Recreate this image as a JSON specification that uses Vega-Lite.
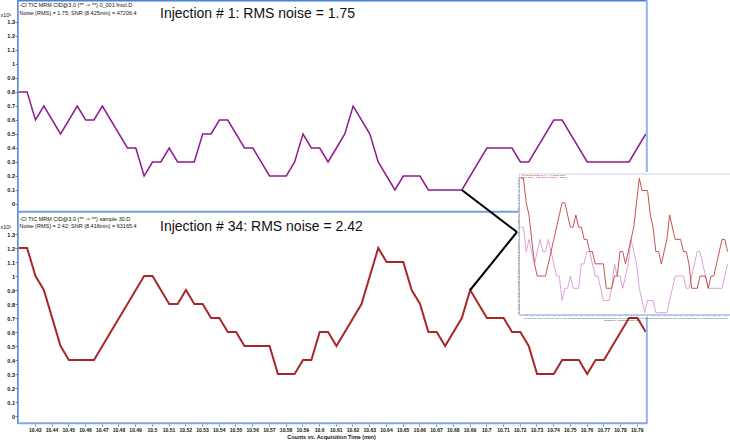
{
  "$schema": "https://vega.github.io/schema/vega-lite/v6.json",
  "autosize": "none",
  "width": 712,
  "height": 424,
  "padding": {"left": 18, "top": 0, "right": 0, "bottom": 17},
  "background": "white",
  "config": {
    "font": "Liberation Sans",
    "view": {"stroke": null},
    "axis": {"grid": false, "labelFont": "Liberation Sans", "titleFont": "Liberation Sans", "labelOverlap": false},
    "text": {"font": "Liberation Sans"}
  },
  "datasets": {
    "top": [
      {"t": 10.4204, "v": 0.8}, {"t": 10.4254, "v": 0.8}, {"t": 10.4304, "v": 0.6}, {"t": 10.4354, "v": 0.7},
      {"t": 10.4454, "v": 0.5}, {"t": 10.4554, "v": 0.7}, {"t": 10.4604, "v": 0.6}, {"t": 10.4654, "v": 0.6},
      {"t": 10.4704, "v": 0.7}, {"t": 10.4854, "v": 0.4}, {"t": 10.4904, "v": 0.4}, {"t": 10.4954, "v": 0.2},
      {"t": 10.5004, "v": 0.3}, {"t": 10.5054, "v": 0.3}, {"t": 10.5104, "v": 0.4}, {"t": 10.5154, "v": 0.3},
      {"t": 10.5254, "v": 0.3}, {"t": 10.5304, "v": 0.5}, {"t": 10.5354, "v": 0.5}, {"t": 10.5404, "v": 0.6},
      {"t": 10.5454, "v": 0.6}, {"t": 10.5554, "v": 0.4}, {"t": 10.5604, "v": 0.4}, {"t": 10.5704, "v": 0.2},
      {"t": 10.5804, "v": 0.2}, {"t": 10.5854, "v": 0.3}, {"t": 10.5904, "v": 0.5}, {"t": 10.5954, "v": 0.4},
      {"t": 10.6004, "v": 0.4}, {"t": 10.6054, "v": 0.3}, {"t": 10.6104, "v": 0.4}, {"t": 10.6154, "v": 0.5},
      {"t": 10.6204, "v": 0.7}, {"t": 10.6304, "v": 0.5}, {"t": 10.6354, "v": 0.3}, {"t": 10.6454, "v": 0.1},
      {"t": 10.6504, "v": 0.2}, {"t": 10.6604, "v": 0.2}, {"t": 10.6654, "v": 0.1}, {"t": 10.6854, "v": 0.1},
      {"t": 10.7004, "v": 0.4}, {"t": 10.7154, "v": 0.4}, {"t": 10.7204, "v": 0.3}, {"t": 10.7254, "v": 0.3},
      {"t": 10.7404, "v": 0.6}, {"t": 10.7454, "v": 0.6}, {"t": 10.7604, "v": 0.3}, {"t": 10.7854, "v": 0.3},
      {"t": 10.7954, "v": 0.5}
    ],
    "bottom": [
      {"t": 10.4204, "v": 1.2}, {"t": 10.4254, "v": 1.2}, {"t": 10.4304, "v": 1.0}, {"t": 10.4354, "v": 0.9},
      {"t": 10.4454, "v": 0.5}, {"t": 10.4504, "v": 0.4}, {"t": 10.4654, "v": 0.4}, {"t": 10.4954, "v": 1.0},
      {"t": 10.5004, "v": 1.0}, {"t": 10.5104, "v": 0.8}, {"t": 10.5154, "v": 0.8}, {"t": 10.5204, "v": 0.9},
      {"t": 10.5254, "v": 0.8}, {"t": 10.5304, "v": 0.8}, {"t": 10.5354, "v": 0.7}, {"t": 10.5404, "v": 0.7},
      {"t": 10.5454, "v": 0.6}, {"t": 10.5504, "v": 0.6}, {"t": 10.5554, "v": 0.5}, {"t": 10.5704, "v": 0.5},
      {"t": 10.5754, "v": 0.3}, {"t": 10.5854, "v": 0.3}, {"t": 10.5904, "v": 0.4}, {"t": 10.5954, "v": 0.4},
      {"t": 10.6004, "v": 0.6}, {"t": 10.6054, "v": 0.6}, {"t": 10.6104, "v": 0.5}, {"t": 10.6254, "v": 0.8},
      {"t": 10.6354, "v": 1.2}, {"t": 10.6404, "v": 1.1}, {"t": 10.6504, "v": 1.1}, {"t": 10.6554, "v": 0.9},
      {"t": 10.6604, "v": 0.8}, {"t": 10.6654, "v": 0.6}, {"t": 10.6704, "v": 0.6}, {"t": 10.6754, "v": 0.5},
      {"t": 10.6854, "v": 0.7}, {"t": 10.6904, "v": 0.9}, {"t": 10.7004, "v": 0.7}, {"t": 10.7104, "v": 0.7},
      {"t": 10.7154, "v": 0.6}, {"t": 10.7204, "v": 0.6}, {"t": 10.7254, "v": 0.5}, {"t": 10.7304, "v": 0.3},
      {"t": 10.7404, "v": 0.3}, {"t": 10.7454, "v": 0.4}, {"t": 10.7554, "v": 0.4}, {"t": 10.7604, "v": 0.3},
      {"t": 10.7654, "v": 0.4}, {"t": 10.7704, "v": 0.4}, {"t": 10.7854, "v": 0.7}, {"t": 10.7904, "v": 0.7},
      {"t": 10.7954, "v": 0.6}
    ]
  },
  "layer": [
    {
      "layer": [
        {
          "data": {"name": "top"},
          "mark": {"type": "line", "color": "#8e1b8f", "strokeWidth": 1.5},
          "encoding": {
            "x": {"field": "t", "type": "quantitative", "scale": {"domain": [10.41995, 10.84579], "zero": false, "nice": false}, "axis": null},
            "y": {"field": "v", "type": "quantitative", "scale": {"domain": [-1.5714, 1.4571], "zero": false, "nice": false},
              "axis": {"orient": "left", "tickCount": 100, "values": [0, 0.1, 0.2, 0.3, 0.4, 0.5, 0.6, 0.7, 0.8, 0.9, 1, 1.1, 1.2, 1.3], "format": "~g", "domain": false, "tickSize": 3, "tickColor": "#666", "tickWidth": 0.8, "labelFontSize": 5.5, "labelFontWeight": "bold", "labelColor": "#111", "labelPadding": 0.5, "labelOverlap": false, "title": "x10¹", "titleAngle": 0, "titleX": -18, "titleY": 14, "titleAlign": "left", "titleBaseline": "middle", "titleFontSize": 5.5, "titleFontWeight": "normal", "titleColor": "#111"}}
          }
        },
        {
          "data": {"values": [{}]},
          "mark": {"type": "rule", "color": "#4a80d6", "strokeWidth": 1.5},
          "encoding": {"x": {"datum": 10.41989}, "y": {"datum": 1.4571}, "y2": {"datum": -1.5714}}
        },
        {
          "data": {"values": [{}]},
          "mark": {"type": "rule", "color": "#4a80d6", "strokeWidth": 1.5},
          "encoding": {"x": {"datum": 10.41989}, "x2": {"datum": 10.79603}, "y": {"datum": 1.4518}}
        },
        {
          "data": {"values": [{}]},
          "mark": {"type": "rule", "color": "#6f9de3", "strokeWidth": 2},
          "encoding": {"x": {"datum": 10.41989}, "x2": {"datum": 10.79603}, "y": {"datum": -0.0557}}
        },
        {
          "data": {"values": [{}]},
          "mark": {"type": "rule", "color": "#92b5e9", "strokeWidth": 2},
          "encoding": {"x": {"datum": 10.79603}, "y": {"datum": 1.4571}, "y2": {"datum": -0.05}}
        },
        {
          "data": {"values": [{}]},
          "mark": {"type": "rule", "color": "black", "strokeWidth": 2},
          "encoding": {"x": {"datum": 10.6854}, "y": {"datum": 0.1}, "x2": {"datum": 10.7184}, "y2": {"datum": -0.2}}
        },
        {
          "data": {"values": [{}]},
          "mark": {"type": "text", "align": "left", "baseline": "alphabetic", "fontSize": 5.5, "color": "#111"},
          "encoding": {"x": {"datum": 10.42085}, "y": {"datum": 1.405}, "text": {"value": "-CI TIC MRM CID@3.0 (** -> **) 0_001 fmol.D"}}
        },
        {
          "data": {"values": [{}]},
          "mark": {"type": "text", "align": "left", "baseline": "alphabetic", "fontSize": 5.5, "color": "#111"},
          "encoding": {"x": {"datum": 10.42085}, "y": {"datum": 1.3479}, "text": {"value": "Noise (RMS) = 1.75; SNR (8.425min) = 47206.4"}}
        },
        {
          "data": {"values": [{}]},
          "mark": {"type": "text", "align": "left", "baseline": "alphabetic", "fontSize": 14, "color": "#111"},
          "encoding": {"x": {"datum": 10.50488}, "y": {"datum": 1.3264}, "text": {"value": "Injection # 1: RMS noise = 1.75"}}
        }
      ]
    },
    {
      "layer": [
        {
          "data": {"name": "bottom"},
          "mark": {"type": "line", "color": "#a8282a", "strokeWidth": 2},
          "encoding": {
            "x": {"field": "t", "type": "quantitative", "scale": {"domain": [10.41995, 10.84579], "zero": false, "nice": false},
              "axis": {"orient": "bottom", "tickCount": 100, "values": [10.43, 10.44, 10.45, 10.46, 10.47, 10.48, 10.49, 10.5, 10.51, 10.52, 10.53, 10.54, 10.55, 10.56, 10.57, 10.58, 10.59, 10.6, 10.61, 10.62, 10.63, 10.64, 10.65, 10.66, 10.67, 10.68, 10.69, 10.7, 10.71, 10.72, 10.73, 10.74, 10.75, 10.76, 10.77, 10.78, 10.79], "format": "~g", "domain": false, "tickSize": 2, "tickColor": "#666", "tickWidth": 0.8, "labelFontSize": 5, "labelFontWeight": "bold", "labelColor": "#111", "labelPadding": 1, "labelFlush": false, "labelOverlap": false, "title": "Counts vs. Acquisition Time (min)", "titleFontSize": 5.5, "titleFontWeight": "bold", "titleColor": "#111", "titleX": 313, "titleY": 12, "titleBaseline": "middle"}},
            "y": {"field": "v", "type": "quantitative", "scale": {"domain": [-0.0571, 2.9714], "zero": false, "nice": false},
              "axis": {"orient": "left", "tickCount": 100, "values": [0, 0.1, 0.2, 0.3, 0.4, 0.5, 0.6, 0.7, 0.8, 0.9, 1, 1.1, 1.2, 1.3], "format": "~g", "domain": false, "tickSize": 3, "tickColor": "#666", "tickWidth": 0.8, "labelFontSize": 5.5, "labelFontWeight": "bold", "labelColor": "#111", "labelPadding": 0.5, "labelOverlap": false, "title": "x10¹", "titleAngle": 0, "titleX": -18, "titleY": 226, "titleAlign": "left", "titleBaseline": "middle", "titleFontSize": 5.5, "titleFontWeight": "normal", "titleColor": "#111"}}
          }
        },
        {
          "data": {"values": [{}]},
          "mark": {"type": "rule", "color": "#92b5e9", "strokeWidth": 2},
          "encoding": {"x": {"datum": 10.79603}, "y": {"datum": 1.4536}, "y2": {"datum": -0.0571}}
        },
        {
          "data": {"values": [{}]},
          "mark": {"type": "rule", "color": "#7ea7e6", "strokeWidth": 2},
          "encoding": {"x": {"datum": 10.41989}, "x2": {"datum": 10.79603}, "y": {"datum": -0.0521}}
        },
        {
          "data": {"values": [{}]},
          "mark": {"type": "rule", "color": "black", "strokeWidth": 2},
          "encoding": {"x": {"datum": 10.6904}, "y": {"datum": 0.9}, "x2": {"datum": 10.7184}, "y2": {"datum": 1.3143}}
        },
        {
          "data": {"values": [{}]},
          "mark": {"type": "text", "align": "left", "baseline": "alphabetic", "fontSize": 5.5, "color": "#111"},
          "encoding": {"x": {"datum": 10.42085}, "y": {"datum": 1.3943}, "text": {"value": "-CI TIC MRM CID@3.0 (** -> **) sample 30.D"}}
        },
        {
          "data": {"values": [{}]},
          "mark": {"type": "text", "align": "left", "baseline": "alphabetic", "fontSize": 5.5, "color": "#111"},
          "encoding": {"x": {"datum": 10.42085}, "y": {"datum": 1.3393}, "text": {"value": "Noise (RMS) = 2.42; SNR (8.416min) = 63165.4"}}
        },
        {
          "data": {"values": [{}]},
          "mark": {"type": "text", "align": "left", "baseline": "alphabetic", "fontSize": 14, "color": "#111"},
          "encoding": {"x": {"datum": 10.50488}, "y": {"datum": 1.3179}, "text": {"value": "Injection # 34: RMS noise = 2.42"}}
        }
      ]
    },
    {
      "layer": [
        {
          "data": {"values": [{}]},
          "mark": {"type": "rect", "fill": "white", "stroke": null},
          "encoding": {
            "x": {"datum": 10.41551, "scale": {"domain": [9.50905, 10.79984], "zero": false, "nice": false}},
            "x2": {"datum": 10.8015},
            "y": {"datum": 1.2516, "scale": {"domain": [-0.8106, 2.6591], "zero": false, "nice": false}},
            "y2": {"datum": 0.065}
          }
        },
        {
          "data": {"values": [{}]},
          "mark": {"type": "rect", "fill": null, "stroke": "#c6d4ea", "strokeWidth": 1},
          "encoding": {"x": {"datum": 10.41822}, "x2": {"datum": 10.8015}, "y": {"datum": 1.2352}, "y2": {"datum": 0.0814}}
        },
        {
          "data": {"name": "top"},
          "mark": {"type": "line", "color": "#d8a3da", "strokeWidth": 1},
          "encoding": {"x": {"field": "t", "type": "quantitative"}, "y": {"field": "v", "type": "quantitative"}}
        },
        {
          "data": {"name": "bottom"},
          "mark": {"type": "line", "color": "#c65353", "strokeWidth": 1},
          "encoding": {
            "x": {"field": "t", "type": "quantitative",
              "axis": {"orient": "bottom", "offset": -109, "zindex": 1, "tickCount": 100, "values": [10.43, 10.44, 10.45, 10.46, 10.47, 10.48, 10.49, 10.5, 10.51, 10.52, 10.53, 10.54, 10.55, 10.56, 10.57, 10.58, 10.59, 10.6, 10.61, 10.62, 10.63, 10.64, 10.65, 10.66, 10.67, 10.68, 10.69, 10.7, 10.71, 10.72, 10.73, 10.74, 10.75, 10.76, 10.77, 10.78, 10.79], "format": "~g", "domain": false, "tickSize": 1, "tickColor": "#777", "tickWidth": 0.5, "labelFontSize": 2.2, "labelColor": "#333", "labelPadding": 0.3, "labelFlush": false, "labelOverlap": false, "title": "Counts vs. Acquisition Time (min)", "titleFontSize": 2.5, "titleFontWeight": "normal", "titleColor": "#333", "titleX": 604, "titleY": 4.5, "titleBaseline": "middle"}},
            "y": {"field": "v", "type": "quantitative",
              "axis": {"orient": "left", "offset": -501.5, "zindex": 1, "tickCount": 100, "values": [0.1, 0.125, 0.15, 0.175, 0.2, 0.225, 0.25, 0.275, 0.3, 0.325, 0.35, 0.375, 0.4, 0.425, 0.45, 0.475, 0.5, 0.525, 0.55, 0.575, 0.6, 0.625, 0.65, 0.675, 0.7, 0.725, 0.75, 0.775, 0.8, 0.825, 0.85, 0.875, 0.9, 0.925, 0.95, 0.975, 1, 1.025, 1.05, 1.075, 1.1, 1.125, 1.15, 1.175, 1.2], "format": "~g", "domain": false, "tickSize": 1, "tickColor": "#777", "tickWidth": 0.5, "labelFontSize": 2.2, "labelColor": "#333", "labelPadding": 0.3, "labelAngle": -90, "labelOverlap": false, "title": null}}
          }
        },
        {
          "data": {"values": [{}]},
          "mark": {"type": "rule", "color": "#a9c5ee", "strokeWidth": 1.5},
          "encoding": {"x": {"datum": 10.41822}, "x2": {"datum": 10.8015}, "y": {"datum": 0.0814}}
        },
        {
          "data": {"values": [{}]},
          "mark": {"type": "text", "align": "left", "baseline": "alphabetic", "fontSize": 2.2, "color": "#c00000"},
          "encoding": {"x": {"datum": 10.42094}, "y": {"datum": 1.2188}, "text": {"value": "-CI TIC MRM CID@3.0 (** -> **) sample 30.D"}}
        },
        {
          "data": {"values": [{}]},
          "mark": {"type": "text", "align": "left", "baseline": "alphabetic", "fontSize": 2.2, "color": "#c00000"},
          "encoding": {"x": {"datum": 10.42094}, "y": {"datum": 1.2008}, "text": {"value": "Noise (RMS) = 2.42; SNR (8.416min) = 63165.4"}}
        }
      ]
    }
  ],
  "resolve": {"scale": {"x": "independent", "y": "independent"}, "axis": {"x": "independent", "y": "independent"}}
}
